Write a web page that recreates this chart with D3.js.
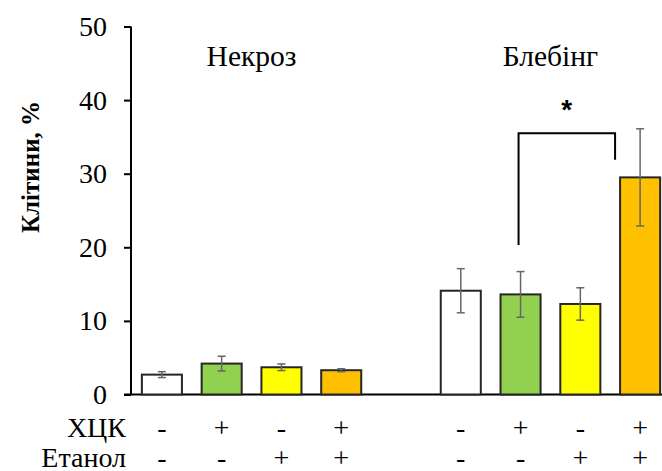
<!DOCTYPE html>
<html>
<head>
<meta charset="utf-8">
<script src="https://cdnjs.cloudflare.com/ajax/libs/d3/7.8.5/d3.min.js"></script>
<style>
  body { margin: 0; background: #fff; }
</style>
</head>
<body>
<svg width="662" height="471"></svg>
<script>
// data
const slots = ["n1", "n2", "n3", "n4", "gap", "b1", "b2", "b3", "b4"];
const barKeys = ["n1", "n2", "n3", "n4", "b1", "b2", "b3", "b4"];
const values = [2.7, 4.2, 3.7, 3.3, 14.1, 13.6, 12.3, 29.5];
const errors = [0.4, 1.0, 0.45, 0.2, 3.0, 3.1, 2.2, 6.6];
const colors = ["#ffffff", "#92d050", "#ffff00", "#ffc000", "#ffffff", "#92d050", "#ffff00", "#ffc000"];
const hck = ["-", "+", "-", "+", "-", "+", "-", "+"];
const ethanol = ["-", "-", "+", "+", "-", "-", "+", "+"];
const groupTitles = [{ text: "Некроз", from: "n1", to: "n4" }, { text: "Блебінг", from: "b1", to: "b4" }];
const yTicks = [0, 10, 20, 30, 40, 50];
// significance bracket between b2 and b4
const bracket = { from: "b2", to: "b4", top: 35.5, leftEnd: 20.3, rightEnd: 31.9, star: 39.4 };

const font = "Liberation Serif";
const svg = d3.select("svg");
const axisX = 131;

const y = d3.scaleLinear().domain([0, 50]).range([394.5, 26.5]);
const x = d3.scaleBand().domain(slots).range([132, 670]).paddingInner(0.33).paddingOuter(0.165);
const cx = k => x(k) + x.bandwidth() / 2;

// y axis
const yAxis = svg.append("g")
    .attr("transform", `translate(${axisX},0)`)
    .call(d3.axisLeft(y).tickValues(yTicks).tickSize(7).tickPadding(17));
yAxis.attr("font-family", font).attr("font-size", 28);
yAxis.select(".domain").attr("stroke", "#000").attr("stroke-width", 2).attr("d", `M0,${y(50)}V${y(0)}`);
yAxis.selectAll(".tick line").attr("stroke", "#000").attr("stroke-width", 2);
yAxis.selectAll(".tick text").attr("fill", "#000");

// x axis line
svg.append("line")
    .attr("x1", axisX - 7).attr("x2", 662)
    .attr("y1", y(0)).attr("y2", y(0))
    .attr("stroke", "#000").attr("stroke-width", 2);

// bars
svg.selectAll(".bar")
    .data(barKeys)
    .enter()
    .append("rect")
    .attr("class", "bar")
    .attr("x", d => x(d))
    .attr("y", (d, i) => y(values[i]))
    .attr("width", x.bandwidth())
    .attr("height", (d, i) => y(0) - y(values[i]))
    .attr("fill", (d, i) => colors[i])
    .attr("stroke", "#262626")
    .attr("stroke-width", 2);

// error bars
const err = svg.selectAll(".err")
    .data(barKeys)
    .enter()
    .append("g")
    .attr("class", "err")
    .attr("stroke", "#666")
    .attr("stroke-width", 1.5);
err.append("line")
    .attr("x1", d => cx(d)).attr("x2", d => cx(d))
    .attr("y1", (d, i) => y(values[i] + errors[i]))
    .attr("y2", (d, i) => y(values[i] - errors[i]));
[1, -1].forEach(s => {
    err.append("line")
        .attr("x1", d => cx(d) - 4).attr("x2", d => cx(d) + 4)
        .attr("y1", (d, i) => y(values[i] + s * errors[i]))
        .attr("y2", (d, i) => y(values[i] + s * errors[i]));
});

// group titles
svg.selectAll(".title")
    .data(groupTitles)
    .enter()
    .append("text")
    .attr("class", "title")
    .attr("x", d => (cx(d.from) + cx(d.to)) / 2)
    .attr("y", 66)
    .attr("text-anchor", "middle")
    .attr("font-family", font)
    .attr("font-size", 29.5)
    .text(d => d.text);

// bracket
const bx1 = cx(bracket.from) - 2;
const bx2 = x(bracket.to) - 5;
svg.append("path")
    .attr("d", `M${bx1},${y(bracket.leftEnd)}V${y(bracket.top)}H${bx2}V${y(bracket.rightEnd)}`)
    .attr("fill", "none")
    .attr("stroke", "#000")
    .attr("stroke-width", 2);
svg.append("text")
    .attr("x", (bx1 + bx2) / 2)
    .attr("y", y(bracket.star) + 14)
    .attr("text-anchor", "middle")
    .attr("font-family", "Liberation Sans")
    .attr("font-weight", "bold")
    .attr("font-size", 28)
    .text("*");

// y label
svg.append("text")
    .attr("transform", "translate(39,167) rotate(-90)")
    .attr("text-anchor", "middle")
    .attr("font-family", font)
    .attr("font-weight", "bold")
    .attr("font-size", 25)
    .text("Клітини, %");

// treatment rows
const rows = [{ label: "ХЦК", signs: hck, base: 437 }, { label: "Етанол", signs: ethanol, base: 467 }];
rows.forEach(r => {
    svg.append("text")
        .attr("x", 126)
        .attr("y", r.base)
        .attr("text-anchor", "end")
        .attr("font-family", font)
        .attr("font-size", 28)
        .text(r.label);
    svg.selectAll(null)
        .data(barKeys)
        .enter()
        .append("text")
        .attr("x", d => cx(d))
        .attr("y", r.base)
        .attr("text-anchor", "middle")
        .attr("font-family", font)
        .attr("font-size", 28)
        .text((d, i) => r.signs[i]);
});
</script>
</body>
</html>
